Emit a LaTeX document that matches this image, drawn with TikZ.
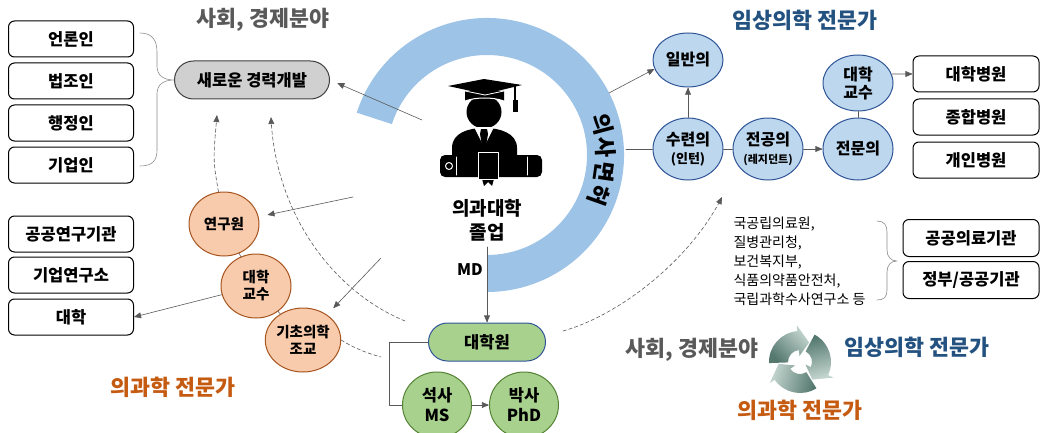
\documentclass[tikz,border=0pt]{standalone}
\usepackage{fontspec}
\setmainfont{Noto Sans CJK KR}
\usepackage{tikz}
\usetikzlibrary{arrows}
\usetikzlibrary{shapes.geometric}
\definecolor{ringblue}{RGB}{157,195,230}
\definecolor{docblue}{RGB}{189,215,238}
\definecolor{docedge}{RGB}{47,85,151}
\definecolor{sciorange}{RGB}{248,203,173}
\definecolor{sciedge}{RGB}{166,84,30}
\definecolor{gradgreen}{RGB}{169,209,142}
\definecolor{gradedge}{RGB}{84,130,53}
\definecolor{pillgray}{RGB}{208,208,208}
\definecolor{socgray}{RGB}{89,89,89}
\definecolor{clinblue}{RGB}{36,82,128}
\definecolor{sciorg}{RGB}{197,90,17}
\definecolor{cycdark}{RGB}{84,120,110}
\definecolor{cyclight}{RGB}{196,214,208}

\begin{document}
\begin{tikzpicture}[x=1pt,y=1pt,line cap=round,line join=round,>=triangle 45,
  jobbox/.style={draw=black,line width=1pt,rounded corners=6pt,fill=white,inner sep=0pt,
    minimum width=125pt,minimum height=36pt,font=\fontsize{16.5}{18}\bfseries},
  pill/.style={line width=1pt,rounded corners=19pt,inner sep=0pt,minimum height=38pt,
    font=\fontsize{16.5}{18}\bfseries},
  scinode/.style={ellipse,draw=sciedge,line width=1pt,fill=sciorange,inner sep=0pt,
    minimum width=70pt,minimum height=64pt,align=center,font=\fontsize{14.5}{17}\bfseries},
  docnode/.style={ellipse,draw=docedge,line width=1pt,fill=docblue,inner sep=0pt,
    minimum width=70pt,minimum height=62pt,align=center,font=\fontsize{16}{18}\bfseries},
  gradnode/.style={ellipse,draw=gradedge,line width=1pt,fill=gradgreen,inner sep=0pt,
    minimum width=69pt,minimum height=66pt,align=center,font=\fontsize{16.5}{20}\bfseries},
  headline/.style={font=\fontsize{21.7}{24}\bfseries},
  link/.style={draw=black!65,line width=0.6pt},
  flow/.style={link,dash pattern=on 3.5pt off 2.5pt}]
\useasboundingbox (0,0) rectangle (1043,-433);

% licence ring with its label
\begin{scope}[shift={(487,-155)}]
\fill[ringblue] (162:137) arc[start angle=162,end angle=-90,radius=137] -- (-90:100)
  arc[start angle=-90,end angle=162,radius=100] -- cycle;
\foreach \ch/\ang in {의/15,사/3.5,면/-8,허/-19.5}
  \node[rotate=\ang-90,font=\fontsize{22.5}{22}\bfseries] at (\ang:119) {\ch};
\end{scope}

% graduate figure
\fill (484,-112) ellipse[x radius=17.5,y radius=16.5];
\fill (465,-91) -- (504,-91) -- (504,-101) .. controls (493,-97) and (476,-97) .. (465,-101) -- cycle;
\draw[white,line width=1pt] (465,-101) .. controls (476,-97) and (493,-97) .. (504,-101);
\fill (448,-86) -- (484,-79) -- (522,-85) -- (485,-94) -- cycle;
\draw[white,line width=0.8pt] (465,-91) -- (485,-95) -- (504,-91);
\draw[line width=1.2pt] (515,-86) -- (515,-101);
\fill (512.5,-100) rectangle (517.5,-112);
\fill (452,-162) -- (452,-148) .. controls (452,-133) and (468,-128) .. (484,-128)
  .. controls (500,-128) and (517,-133) .. (517,-148) -- (517,-162) -- cycle;
\fill[white] (474,-127) -- (484,-147) -- (494,-127) -- cycle;
\fill (481,-129) -- (487,-129) -- (488,-134) -- (486,-146) -- (484,-149) -- (482,-146) -- (480,-134) -- cycle;
\fill[rounded corners=5pt] (440,-155) rectangle (542,-177);
\draw[white,line width=1pt] (449,-166) circle[radius=3.5];
\draw[white,line width=1pt] (456,-157) -- (456,-175);
\draw[white,line width=1pt] (527,-157) -- (527,-175);
\fill (482,-179) -- (494,-179) -- (492,-186) -- (488,-182) -- (484,-186) -- cycle;
\filldraw[draw=white,line width=1pt] (478,-152) rectangle (498,-179);

% cycle mark
\begin{scope}[shift={(800,-362)}]
\foreach \k [evaluate=\k as \sa using -45-120*\k] in {0,1,2}
  \shade[bottom color=cycdark,top color=cyclight,shading angle=\sa]
    ({182-120*\k}:31) arc[start angle={182-120*\k},end angle={95-120*\k},radius=31]
    -- ({95-120*\k}:37) -- ({65-120*\k}:21.5) -- ({95-120*\k}:6) -- ({95-120*\k}:12)
    arc[start angle={95-120*\k},end angle={182-120*\k},radius=12] -- cycle;
\end{scope}

\node[jobbox] (press) at (71,-39) {언론인};
\node[jobbox] (law) at (71,-81) {법조인};
\node[jobbox] (admin) at (71,-123) {행정인};
\node[jobbox] (biz) at (71,-165) {기업인};
\node[jobbox] (publab) at (71,-234) {공공연구기관};
\node[jobbox] (corplab) at (71,-275) {기업연구소};
\node[jobbox] (univ) at (71,-317) {대학};
\node[jobbox,minimum width=126pt] (uhosp) at (976,-74) {대학병원};
\node[jobbox,minimum width=126pt] (genhosp) at (976,-117) {종합병원};
\node[jobbox,minimum width=126pt] (clinic) at (976,-160) {개인병원};
\node[jobbox,minimum width=136pt,minimum height=37pt] (pubmed) at (971,-238) {공공의료기관};
\node[jobbox,minimum width=136pt,minimum height=37pt] (gov) at (971,-280) {정부/공공기관};
\node[pill,draw=black!75,fill=pillgray,minimum width=155pt] (career) at (252,-80) {새로운 경력개발};
\node[pill,draw=docedge,fill=gradgreen,minimum width=117pt] (gschool) at (487,-342) {대학원};

\node[scinode] (researcher) at (224,-224) {연구원};
\node[scinode] (sciprof) at (256,-286) {대학\\교수};
\node[scinode] (assistant) at (303,-340) {기초의학\\조교};
\node[docnode,minimum height=54pt] (gp) at (688,-60) {일반의};
\node[docnode] (intern) at (688,-149) {수련의\\{\fontsize{13}{15}\selectfont(인턴)}};
\node[docnode] (resident) at (768,-149) {전공의\\{\fontsize{11}{13}\selectfont(레지던트)}};
\node[docnode] (specialist) at (858,-149) {전문의};
\node[docnode,minimum height=56pt] (docprof) at (858,-83) {대학\\교수};
\node[gradnode] (master) at (437,-405) {석사\\MS};
\node[gradnode] (phd) at (524,-405) {박사\\PhD};

\node[headline,text=socgray] (soctitle) at (263,-20) {사회, 경제분야};
\node[headline,text=clinblue] (clintitle) at (805,-20) {임상의학 전문가};
\node[headline,text=sciorg] (scititle) at (173,-387) {의과학 전문가};
\node[font=\fontsize{19}{24}\bfseries,align=center] (graduate) at (487,-220) {의과대학\\졸업};
\node[font=\fontsize{16}{18}\bfseries] (md) at (470,-270) {MD};
\node[font=\fontsize{14}{19}\selectfont,align=left,anchor=west] (agencies) at (730,-261)
  {국공립의료원,\\질병관리청,\\보건복지부,\\식품의약품안전처,\\국립과학수사연구소 등};
\node[headline,text=socgray] (socleg) at (692,-350) {사회, 경제분야};
\node[headline,text=clinblue] (clinleg) at (917,-347) {임상의학 전문가};
\node[headline,text=sciorg] (scileg) at (800,-410) {의과학 전문가};

\coordinate (ringW) at (422,-120);
\coordinate (ringNE) at (609,-93);
\coordinate (ringE) at (626,-149);
\coordinate (fromA) at (353,-197);
\coordinate (fromB) at (381,-258);
\coordinate (mdTop) at (487,-247);
\coordinate (upA) at (217,-115);
\coordinate (upB) at (271,-117);
\coordinate (tailB) at (405,-321);
\coordinate (tailC) at (563,-331);
\coordinate (upC) at (722,-197);
\coordinate (tailD) at (381,-357);

% braces
\draw[link,black!45] (140,-33) .. controls (152,-33) and (157,-40) .. (157,-52) -- (157,-66)
  .. controls (157,-75) and (163,-80) .. (career.west)
  .. controls (163,-80) and (157,-85) .. (157,-94) -- (157,-150)
  .. controls (157,-161) and (152,-166) .. (140,-166);
\draw[link,black!45] (877,-221) .. controls (884,-221) and (887,-225) .. (887,-232) -- (887,-250)
  .. controls (887,-257) and (891,-261) .. (897,-261)
  .. controls (891,-261) and (887,-265) .. (887,-272) -- (887,-290)
  .. controls (887,-297) and (884,-300) .. (877,-300);

\draw[link,->,shorten >=8pt] (ringW) -- (career.east);
\draw[link,->] (ringNE) -- (gp.195);
\draw[link] (ringE) -- (intern);
\draw[link,->] (intern) -- (gp);
\draw[link] (intern) -- (resident);
\draw[link,->] (resident) -- (specialist);
\draw[link] (specialist) -- (docprof);
\draw[link,->] (docprof.15) -- (uhosp.west);
\draw[link,->,shorten >=9pt] (fromA) -- (researcher);
\draw[link,->,shorten >=9pt] (fromB) -- (assistant);
\draw[link,->] (sciprof) -- (univ.east);
\draw[link] (researcher) -- (sciprof);
\draw[link] (sciprof) -- (assistant);
\draw[link,->] (mdTop) -- (gschool);
\draw[link] (gschool.west) -- ++(-39,0) |- (master);
\draw[link,->] (master) -- (phd);
\draw[flow,->] (researcher) .. controls (213,-160) .. (upA);
\draw[flow,->] (tailB) .. controls (330,-290) and (275,-210) .. (upB);
\draw[flow] (assistant.east) .. controls (352,-347) and (366,-353) .. (tailD);
\draw[flow,->] (tailC) .. controls (620,-315) and (690,-260) .. (upC);
\end{tikzpicture}
\end{document}
